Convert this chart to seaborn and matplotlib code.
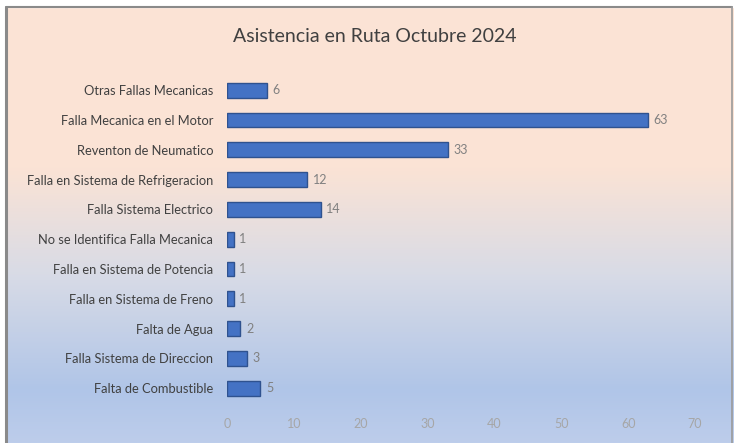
import numpy as np
import pandas as pd
import matplotlib
matplotlib.use("Agg")
import matplotlib.pyplot as plt
from matplotlib.colors import LinearSegmentedColormap
from matplotlib.patches import Rectangle
import seaborn as sns

categorias = [
    "Otras Fallas Mecanicas",
    "Falla Mecanica en el Motor",
    "Reventon de Neumatico",
    "Falla en Sistema de Refrigeracion",
    "Falla Sistema Electrico",
    "No se Identifica Falla Mecanica",
    "Falla en Sistema de Potencia",
    "Falla en Sistema de Freno",
    "Falta de Agua",
    "Falla Sistema de Direccion",
    "Falta de Combustible",
]
casos = [6, 63, 33, 12, 14, 1, 1, 1, 2, 3, 5]
ticks_x = [0, 10, 20, 30, 40, 50, 60, 70]

df = pd.DataFrame({"categoria": categorias, "casos": casos})

sns.set_theme(style="white")
plt.rcParams["font.family"] = ["Lato", "DejaVu Sans"]

fig = plt.figure(figsize=(7.34, 4.43), dpi=100)
fig.patch.set_facecolor("white")

# fondo degradado
bg = fig.add_axes([0, 0, 1, 1], zorder=0)
cmap = LinearSegmentedColormap.from_list(
    "fondo",
    [(0.0, "#fce4d6"), (0.38, "#fbe3d5"), (0.62, "#d8dbe6"),
     (0.88, "#b0c5e8"), (1.0, "#bdcdeb")],
)
grad = np.linspace(0, 1, 256).reshape(-1, 1)
bg.imshow(grad, aspect="auto", cmap=cmap, extent=[0, 1, 0, 1], origin="upper")
bg.add_patch(Rectangle((0, 0.984), 1, 0.02, color="white", transform=bg.transAxes))
bg.add_patch(Rectangle((0, 0), 0.006, 1, color="white", transform=bg.transAxes))
bg.plot([0.0075, 0.0075], [0, 0.984], color="#8a8a8a", lw=2.2)
bg.plot([0.0075, 0.997], [0.984, 0.984], color="#8a8a8a", lw=1.5)
bg.plot([0.997, 0.997], [0, 0.984], color="#9a9a9a", lw=1.2)
bg.set_xlim(0, 1)
bg.set_ylim(0, 1)
bg.axis("off")

ax = fig.add_axes([0.3093, 0.090, 0.6376, 0.740], zorder=1)
ax.patch.set_alpha(0)
sns.barplot(data=df, x="casos", y="categoria", order=categorias, color="#4472c4",
            saturation=1, width=0.5, edgecolor="#2f528f", linewidth=1.0, ax=ax)

for cont in ax.containers:
    ax.bar_label(cont, padding=4, fontsize=9, color="#808080")

ax.set_xlim(0, 70)
ax.set_xticks(ticks_x)
ax.set_xlabel("")
ax.set_ylabel("")
ax.tick_params(axis="x", length=0, pad=10.5, labelsize=9, labelcolor="#a6a6a6")
ax.tick_params(axis="y", length=0, pad=10, labelsize=9.3, labelcolor="#404040")
sns.despine(ax=ax, left=True, bottom=True)

fig.text(0.511, 0.917, "Asistencia en Ruta Octubre 2024", ha="center", va="center",
         fontsize=14, color="#404040")

fig.savefig("out.png", dpi=100)
